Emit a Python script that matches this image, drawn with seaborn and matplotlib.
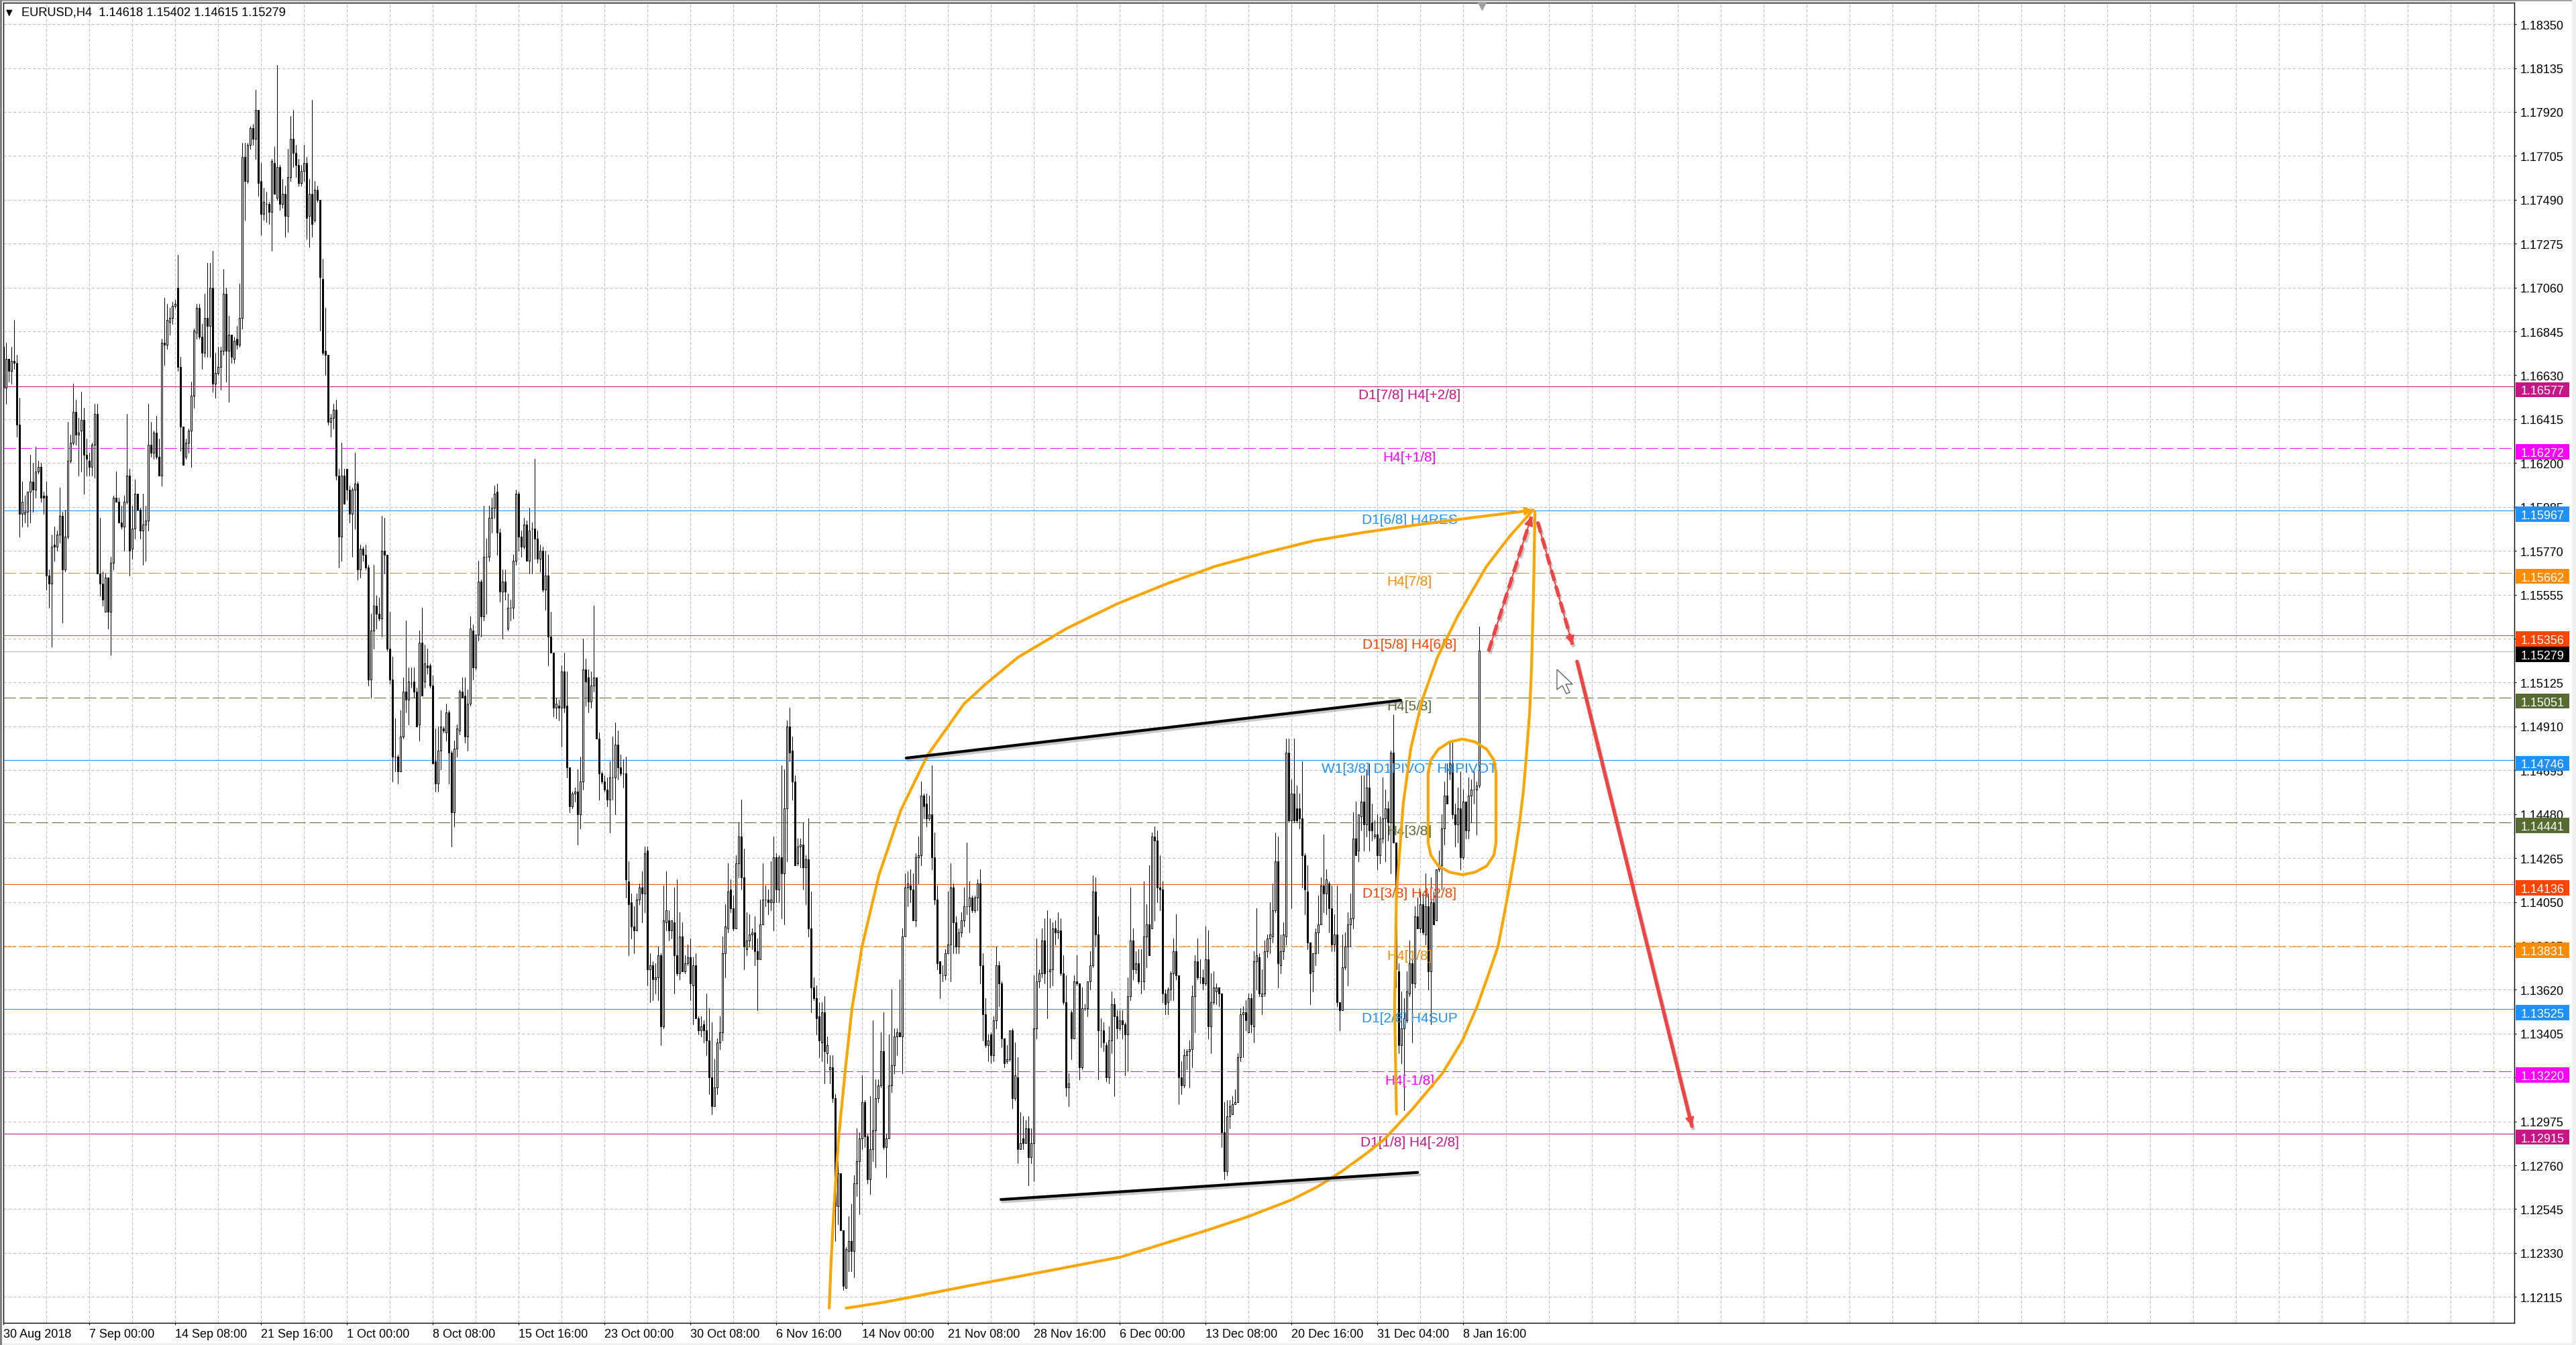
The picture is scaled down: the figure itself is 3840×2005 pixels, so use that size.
import matplotlib
import matplotlib.pyplot as plt
import matplotlib.patheffects as pe
from matplotlib.patches import Rectangle
import numpy as np
import pandas as pd
import seaborn as sns

matplotlib.use("Agg")

# EURUSD H4 candles, in pips above 1.1000
OPENS = [
    677,657,671,665,670,669,639,595,595,596, 606,611,607,616,618,604,604,565,561,580,
    579,585,594,568,584,621,630,645,634,636, 641,624,621,618,629,644,566,561,547,564,
    547,571,603,601,591,589,601,614,578,588, 605,597,587,590,592,629,625,635,623,614,
    679,678,689,691,697,706,667,638,623,630, 636,653,684,696,682,674,691,687,706,659,
    664,667,675,703,675,683,671,681,678,691, 770,758,776,784,779,793,758,742,747,747,
    743,767,750,765,747,752,741,760,779,772, 766,757,763,767,741,752,739,754,749,710,
    675,673,640,642,646,614,584,614,617,607, 595,607,610,568,578,575,569,514,538,550,
    546,544,577,575,529,514,476,476,469,486, 508,504,512,513,508,492,532,513,521,521,
    511,474,463,479,490,488,498,478,449,480, 489,508,506,486,502,538,520,536,562,545,
    574,574,593,598,606,586,557,562,539,549, 549,572,605,584,579,590,572,588,588,583,
    573,577,558,565,535,527,500,501,500,518, 501,471,452,458,459,448,464,519,515,503,
    511,515,485,468,464,460,455,466,466,482, 471,468,468,415,405,393,391,406,412,409,
    430,372,374,367,368,379,344,395,396,391, 395,379,370,388,371,375,378,364,374,348,
    342,345,342,337,319,305,314,336,341,380, 392,411,402,392,424,437,417,382,386,389,
    390,381,377,394,406,406,405,405,427,411, 427,419,451,491,479,464,424,432,433,422,
    426,392,363,358,349,336,351,331,323,324, 309,256,272,244,216,234,239,234,267,278,
    289,307,290,269,284,293,309,315,332,285, 289,315,325,339,341,339,388,412,413,411,
    396,427,428,457,453,446,448,427,406,376, 369,369,380,384,412,395,383,390,396,403,
    403,407,401,407,414,374,350,335,340,330, 347,374,365,338,327,328,342,309,319,284,
    289,287,294,280,287,343,366,370,386,371, 371,372,392,390,391,370,356,314,351,338,
    366,365,324,353,353,366,374,410,389,342, 342,335,319,337,355,349,343,347,345,340,
    359,386,372,375,366,366,388,394,392,437, 435,412,411,360,356,362,370,381,369,319,
    315,330,332,333,359,376,368,368,365,377, 344,356,361,363,360,292,273,300,301,306,
    307,329,350,351,341,358,344,376,378,359, 360,381,387,388,401,425,374,381,388,478,
    445,458,451,451,446,428,410,385,371,380, 390,394,413,409,414,402,384,389,356,352,
    373,383,394,397,436,430,447,454,443,461, 444,437,438,428,436,446,451,444,478,434,
    371,335,343,347,360,375,365,398,392,404, 389,403,371,405,396,421,423,441,457,468,
    473,448,443,451,427,454,440,457,460,460, 462,
]
CLOSES = [
    657,671,665,670,669,639,595,601,596,606, 611,607,616,618,603,603,565,561,579,579,
    585,594,568,584,621,630,645,634,635,641, 624,622,618,629,644,566,561,553,564,547,
    571,603,601,591,589,601,614,577,588,605, 597,587,590,592,629,625,635,623,614,679,
    678,690,691,697,698,667,638,619,630,636, 653,685,696,682,674,691,687,706,659,664,
    667,675,703,675,683,672,680,678,691,770, 758,776,784,779,793,757,742,748,747,743,
    768,752,765,747,752,741,760,779,772,766, 757,763,767,740,752,737,754,749,711,674,
    673,640,642,646,614,584,614,600,607,595, 607,610,568,578,575,569,514,538,550,546,
    544,577,575,529,514,476,476,469,486,508, 504,513,512,508,491,532,506,522,520,511,
    473,463,479,491,489,498,478,449,480,490, 508,505,486,502,539,520,536,562,545,574,
    574,593,598,605,586,557,562,557,549,549, 572,605,584,579,590,572,587,588,583,573,
    577,558,565,535,527,500,502,500,518,500, 471,452,458,459,448,464,519,513,503,511,
    515,485,468,464,460,455,466,466,482,471, 468,468,416,404,393,391,406,412,409,429,
    372,374,367,368,379,344,396,401,391,396, 379,370,388,371,375,378,365,374,348,342,
    344,342,337,319,305,314,336,341,380,393, 410,402,392,424,437,417,383,386,389,390,
    381,377,394,406,406,405,406,427,411,427, 419,451,491,478,464,423,432,433,422,426,
    392,363,358,348,337,351,332,335,324,309, 256,272,244,217,235,239,234,267,278,289,
    307,290,269,284,293,309,315,332,285,289, 315,325,339,341,339,388,412,414,411,396,
    427,428,457,452,446,448,427,406,375,370, 369,380,384,412,395,383,390,396,403,403,
    407,401,407,414,374,350,335,337,330,347, 374,365,338,326,328,342,309,320,284,287,
    287,294,280,287,343,366,370,386,370,371, 372,392,390,391,370,356,314,316,338,366,
    365,324,353,353,366,374,410,389,342,342, 336,319,337,355,349,343,347,345,340,359,
    386,372,375,366,366,388,394,379,437,435, 412,411,360,355,362,370,381,369,319,315,
    330,332,333,359,376,368,368,365,377,344, 356,363,363,360,292,273,300,305,306,307,
    329,350,351,347,358,345,376,379,360,360, 381,387,389,401,425,375,381,389,478,445,
    458,445,445,446,428,411,385,370,380,390, 394,413,409,416,402,384,389,356,352,373,
    383,394,397,436,428,448,454,443,461,440, 440,438,428,436,446,451,444,478,434,372,
    335,343,348,361,375,365,398,392,404,390, 403,371,405,394,421,422,441,457,453,473,
    448,443,451,427,454,440,457,460,460,462, 528,
]
HIGHS = [
    683,679,671,677,690,673,652,611,604,606, 624,620,628,621,620,606,611,568,585,589,
    587,608,596,597,640,634,659,651,642,655, 647,632,625,630,649,649,593,567,566,564,
    574,604,616,603,599,604,644,617,599,612, 605,598,605,599,649,640,636,643,632,681,
    701,698,696,699,700,722,672,638,632,637, 660,686,698,698,688,703,718,718,724,674,
    677,677,715,706,692,683,682,687,708,777, 777,777,785,786,803,793,767,755,753,748,
    769,775,815,766,759,756,774,790,793,776, 769,766,776,770,759,798,758,756,749,720,
    696,673,644,649,651,617,630,617,617,609, 608,625,611,580,579,580,570,546,570,555,
    554,594,593,575,547,525,495,477,499,515, 543,520,520,520,510,538,549,531,529,522,
    516,490,491,499,491,502,499,479,484,492, 509,515,515,509,545,541,536,572,563,599,
    583,599,603,609,610,588,568,568,556,553, 575,607,606,587,593,592,598,591,622,587,
    580,579,577,575,547,527,505,504,521,527, 518,471,459,461,470,476,534,524,519,518,
    550,515,488,469,467,466,474,486,493,489, 477,475,476,425,409,403,409,414,420,432,
    432,380,376,375,383,380,413,420,401,396, 412,416,400,395,379,384,387,378,380,349,
    349,347,360,353,346,328,338,349,388,404, 424,416,408,428,444,455,431,400,399,392,
    398,387,406,424,413,411,425,437,429,428, 472,470,494,500,486,467,436,436,444,428,
    446,410,368,364,356,356,359,339,330,330, 311,278,272,244,236,251,257,271,294,292,
    320,308,291,310,347,318,318,341,351,291, 340,362,343,343,367,392,419,420,421,419,
    429,437,464,458,458,457,472,439,413,376, 374,382,410,424,414,398,392,400,412,434,
    415,408,408,416,421,380,358,340,341,349, 383,376,366,338,335,342,343,336,329,302,
    300,298,300,294,369,387,372,392,397,401, 397,395,396,400,397,379,369,321,352,369,
    379,365,363,355,366,381,418,417,398,348, 346,336,344,361,358,352,352,352,346,368,
    412,392,381,382,382,415,404,423,439,442, 440,428,415,362,363,371,387,399,369,327,
    333,333,337,364,379,387,377,372,393,391, 370,371,365,363,360,307,308,308,310,313,
    331,353,354,357,360,360,381,402,380,372, 386,389,405,414,439,437,389,395,485,485,
    465,485,462,458,474,429,423,385,380,392, 408,417,438,421,415,413,399,413,356,389,
    390,400,409,449,454,448,467,467,470,473, 453,445,448,447,466,460,454,479,497,434,
    375,361,358,371,386,381,403,407,410,409, 419,409,417,410,421,430,448,464,473,483,
    484,453,461,469,460,454,466,465,469,464, 540,
]
LOWS = [
    641,649,660,659,666,633,584,589,591,589, 591,596,603,615,601,595,558,549,530,572,
    577,581,542,567,583,620,629,629,614,616, 605,614,614,614,613,566,555,550,547,539,
    526,568,601,591,588,577,600,565,573,583, 597,583,570,572,587,623,622,622,614,609,
    668,676,683,688,696,665,626,619,622,625, 618,647,681,681,666,672,672,672,655,652,
    663,656,673,660,650,669,669,676,677,686, 739,757,774,776,769,751,732,739,738,737,
    724,752,749,744,745,731,733,758,765,760, 756,756,758,730,726,731,738,748,685,673,
    663,639,633,637,612,569,572,600,602,591, 574,588,563,564,572,568,511,505,529,539,
    543,535,566,528,512,464,469,463,469,485, 498,492,510,505,491,484,506,510,517,510,
    473,459,459,470,488,484,463,432,442,476, 487,505,483,479,501,514,519,533,535,543,
    546,572,586,593,575,552,534,553,538,543, 544,570,577,574,578,572,566,566,573,571,
    567,557,548,521,527,496,495,494,481,498, 466,449,451,454,433,441,460,501,498,500,
    508,485,455,463,459,452,439,455,448,465, 467,461,407,379,387,380,391,404,395,400,
    364,356,357,360,357,335,343,391,386,387, 360,369,367,371,370,374,357,345,348,340,
    339,336,330,311,301,305,311,333,337,368, 390,400,391,392,417,411,372,379,383,382,
    374,352,377,394,403,399,401,391,405,405, 397,394,425,474,455,423,423,422,411,404,
    388,351,357,340,329,327,316,326,316,307, 239,247,244,215,216,224,224,221,261,252,
    284,285,267,262,278,275,307,314,284,270, 289,312,321,330,339,321,388,403,405,396,
    393,414,423,446,442,445,421,404,372,358, 366,367,380,366,380,380,380,388,393,399,
    390,400,400,401,365,337,334,327,326,327, 343,354,334,324,326,327,304,308,277,284,
    284,287,266,277,268,338,363,368,365,348, 363,364,384,387,369,355,310,305,328,338,
    364,318,323,352,349,362,373,383,318,334, 332,317,316,331,310,338,342,338,320,322,
    357,367,370,365,360,362,373,379,392,396, 405,401,356,350,350,357,357,367,306,311,
    314,323,314,324,341,367,365,362,364,338, 331,355,355,354,285,269,271,294,301,306,
    307,327,329,342,341,341,336,362,359,350, 359,378,380,385,400,363,370,377,384,444,
    402,444,444,441,412,399,382,355,361,374, 380,394,400,399,390,381,381,354,342,352,
    372,364,383,392,428,425,440,430,437,430, 435,436,421,424,434,425,435,419,434,363,
    331,326,303,346,359,336,363,392,390,389, 384,362,345,394,396,420,411,433,453,465,
    446,432,434,421,426,436,436,444,453,438, 461,
]

DATE_LABELS = [
    "30 Aug 2018", "7 Sep 00:00", "14 Sep 08:00", "21 Sep 16:00", "1 Oct 00:00", "8 Oct 08:00",
    "15 Oct 16:00", "23 Oct 00:00", "30 Oct 08:00", "6 Nov 16:00", "14 Nov 00:00", "21 Nov 08:00",
    "28 Nov 16:00", "6 Dec 00:00", "13 Dec 08:00", "20 Dec 16:00", "31 Dec 04:00", "8 Jan 16:00",
]
PRICE_LABELS = [
    "1.18350", "1.18135", "1.17920", "1.17705", "1.17490", "1.17275", "1.17060", "1.16845",
    "1.16630", "1.16415", "1.16200", "1.15985", "1.15770", "1.15555", "1.15340", "1.15125",
    "1.14910", "1.14695", "1.14480", "1.14265", "1.14050", "1.13835", "1.13620", "1.13405",
    "1.13190", "1.12975", "1.12760", "1.12545", "1.12330", "1.12115",
]

# Murrey math levels
LEVELS = [1.16577, 1.16272, 1.15967, 1.15662, 1.15356, 1.15051, 1.14746,
          1.14441, 1.14136, 1.13831, 1.13525, 1.13220, 1.12915]
LEVEL_NAMES = ["D1[7/8] H4[+2/8]", "H4[+1/8]", "D1[6/8] H4RES", "H4[7/8]", "D1[5/8] H4[6/8]",
               "H4[5/8]", "W1[3/8] D1PIVOT H4PIVOT", "H4[3/8]", "D1[3/8] H4[2/8]", "H4[1/8]",
               "D1[2/8] H4SUP", "H4[-1/8]", "D1[1/8] H4[-2/8]"]
LEVEL_COLORS = ["#C71585", "#FF00FF", "#1E90FF", "#FF8C00", "#FF4500", "#556B2F", "#1E90FF",
                "#556B2F", "#FF4500", "#FF8C00", "#1E90FF", "#FF00FF", "#C71585"]
LEVEL_DASHED = [False, True, False, True, False, True, False, True, False, True, False, True, False]
BID = 1.15279

# hand drawn objects: bar number and pips above 1.1000
ARC_UP_X = [307.7, 308.4, 309.4, 311.2, 313.7, 316.2, 319.9, 326.2, 334.4, 344.4, 357.9, 366.2,
            378.2, 396.2, 414.9, 433.7, 451.7, 469.9, 488.4, 506.7, 525.2, 548.7, 570]
ARC_UP_Y = [206, 229, 254, 289.5, 323, 353, 383, 418, 450, 477, 502, 512,
            525, 539, 551, 561, 569.5, 576, 582, 586, 589.5, 593.5, 597]
ARC_LOW_X = [314, 328.7, 344.4, 359.9, 376.2, 396.2, 416.2, 432.4, 447.9, 463.7, 479.9, 489.7,
             498.7, 507.4, 514.4, 524.9, 536.2, 543.7, 549.2, 553.7, 556.9, 559.2, 561.2,
             563.2, 564.9, 566.4, 567.4, 568.7, 569.4, 570.2, 570.7]
ARC_LOW_Y = [206, 209, 213, 217, 221, 226, 231, 237.6, 243.9, 250.8, 259, 265.5,
             273, 281.3, 288.5, 303.3, 321, 337.2, 354, 370.7, 383, 398.6, 413,
             428.2, 443, 459.4, 475, 497.2, 519, 558, 596]
ARC_INNER_X = [519.1, 518.7, 518.4, 519.1, 521.6, 524.4, 528.7, 534.4, 541.9, 552.7, 561.2, 570]
ARC_INNER_Y = [301, 331, 354, 409, 453, 480, 504, 525, 545, 569.5, 584, 597]
LOOP_X = [543.7, 548.4, 552.7, 555.4, 556.2, 556.2, 555.4, 552.7, 548.4, 543.7,
          538.9, 534.7, 531.9, 530.9, 530.9, 531.9, 534.7, 538.9, 543.7]
LOOP_Y = [484.8, 483.4, 479.8, 474.5, 468.3, 434.1, 427.9, 422.6, 419.6, 418.3,
          419.6, 422.6, 427.9, 434.1, 468.3, 474.5, 479.8, 483.4, 484.8]
TREND_TOP_X = [336.4, 520.7]
TREND_TOP_Y = [475.5, 503.8]
TREND_BOTTOM_X = [371.7, 527]
TREND_BOTTOM_Y = [259.2, 272.5]
RED_UP_X = [553.4, 569.4]
RED_UP_Y = [527.8, 593.8]
RED_DOWN_X = [571.7, 584.7]
RED_DOWN_Y = [591.2, 531]
RED_TARGET_X = [586.4, 629.2]
RED_TARGET_Y = [522.8, 295.1]
CURSOR_X = [578.9, 578.9, 580.9, 582.4, 583.7, 582.2, 584.7]
CURSOR_Y = [518.9, 509, 511, 507, 507.7, 511.7, 511.7]


def to_price(pips):
    return 1.1 + np.asarray(pips, dtype=float) / 10000


def draw_path(ax, xs, ys, color, width, zorder=6, shadow=False, **kwargs):
    sns.lineplot(x=xs, y=to_price(ys), sort=False, estimator=None, color=color,
                 linewidth=width, ax=ax, zorder=zorder, legend=False, **kwargs)
    line = ax.lines[-1]
    if shadow:
        line.set_path_effects([
            pe.SimpleLineShadow(offset=(1.5, -2.5), shadow_color="#888888", alpha=0.45),
            pe.Normal(),
        ])
    return line


def draw_head(ax, x0, y0, x1, y1, color):
    ax.annotate("", xy=(x1, to_price(y1)), xytext=(x0, to_price(y0)), zorder=7,
                arrowprops=dict(arrowstyle="-|>", color=color, lw=1.5, mutation_scale=20,
                                shrinkA=0, shrinkB=0))


sns.set_theme(style="white")
plt.rcParams["font.family"] = ["Liberation Sans", "DejaVu Sans"]

fig = plt.figure(figsize=(38.4, 20.06), dpi=100, facecolor="white")
ax = fig.add_axes([4.5 / 3840, 33.5 / 2006, 3743.5 / 3840, 1967.5 / 2006])

candles = pd.DataFrame({"open": to_price(OPENS), "high": to_price(HIGHS),
                        "low": to_price(LOWS), "close": to_price(CLOSES)})
candles["bar"] = np.arange(len(candles))

# wicks
wicks = candles.melt(id_vars="bar", value_vars=["low", "high"], value_name="price")
sns.lineplot(data=wicks, x="bar", y="price", units="bar", estimator=None, color="black",
             linewidth=0.75, legend=False, ax=ax, zorder=3)

# bodies
rising = candles["close"] >= candles["open"]
ax.bar(candles["bar"], (candles["close"] - candles["open"]).abs(),
       bottom=candles[["open", "close"]].min(axis=1), width=0.5,
       color=np.where(rising, "white", "black"), edgecolor="black", linewidth=0.75, zorder=4)

# levels, bid line and their labels
for level, name, colour, dashed in zip(LEVELS, LEVEL_NAMES, LEVEL_COLORS, LEVEL_DASHED):
    ax.axhline(level, color=colour, linewidth=0.72, zorder=2, snap=True,
               linestyle=(0, (18, 6)) if dashed else "-")
    ax.text(524, level - 0.00036, name, color=colour, fontsize=15, ha="center",
            va="center_baseline", zorder=5)
ax.axhline(BID, color="#C0C0C0", linewidth=0.9, zorder=2, snap=True)


def price_tag(level, colour, zorder):
    ax.add_patch(Rectangle((936.2, level - 0.00054), 20, 0.00074, facecolor=colour, edgecolor="none",
                           clip_on=False, zorder=zorder))
    ax.text(938, level - 0.00017, f"{level:.5f}", color="white", fontsize=13, va="center_baseline",
            clip_on=False, zorder=zorder + 0.1)


price_tag(BID, "black", 8)
for level, colour in zip(LEVELS, LEVEL_COLORS):
    price_tag(level, colour, 9)

# hand drawn objects
arc_colour = "#F9A602"
draw_path(ax, ARC_UP_X, ARC_UP_Y, arc_colour, 3, solid_capstyle="round", solid_joinstyle="round")
draw_path(ax, ARC_LOW_X, ARC_LOW_Y, arc_colour, 3, solid_capstyle="round", solid_joinstyle="round")
draw_path(ax, ARC_INNER_X, ARC_INNER_Y, arc_colour, 3, solid_capstyle="round", solid_joinstyle="round")
draw_path(ax, LOOP_X, LOOP_Y, arc_colour, 3, solid_joinstyle="round")
draw_head(ax, ARC_UP_X[-2], ARC_UP_Y[-2], ARC_UP_X[-1], ARC_UP_Y[-1], arc_colour)

draw_path(ax, TREND_TOP_X, TREND_TOP_Y, "black", 3, shadow=True)
draw_path(ax, TREND_BOTTOM_X, TREND_BOTTOM_Y, "black", 3, shadow=True)

red = "#F04444"
draw_path(ax, RED_UP_X, RED_UP_Y, red, 3.8, shadow=True, linestyle=(0, (3.2, 1.5)))
draw_path(ax, RED_DOWN_X, RED_DOWN_Y, red, 3.8, shadow=True, linestyle=(0, (3.2, 1.5)))
draw_path(ax, RED_TARGET_X, RED_TARGET_Y, red, 3.8, shadow=True)
draw_head(ax, RED_UP_X[0], RED_UP_Y[0], RED_UP_X[1], RED_UP_Y[1], red)
draw_head(ax, RED_DOWN_X[0], RED_DOWN_Y[0], RED_DOWN_X[1], RED_DOWN_Y[1], red)
draw_head(ax, RED_TARGET_X[0], RED_TARGET_Y[0], RED_TARGET_X[1], RED_TARGET_Y[1], red)

ax.fill(CURSOR_X, to_price(CURSOR_Y), facecolor="white", edgecolor="#555555", linewidth=0.9, zorder=8)

# shift marker at the top of the last bar
ax.scatter([550.8], [1.18440], marker="v", s=70, color="#A0A0A0", zorder=8, clip_on=False)

# axes
price_ticks = [float(t) for t in PRICE_LABELS]
ax.set_xlim(-0.21, 935.67)
ax.set_ylim(1.119895, 1.184556)
ax.set_xticks(np.arange(len(DATE_LABELS)) * 32)
ax.set_xticklabels(DATE_LABELS, ha="left", fontsize=13, color="black")
ax.set_xticks(np.arange(0, 936, 16), minor=True)
ax.yaxis.tick_right()
ax.set_yticks(price_ticks)
ax.set_yticklabels(PRICE_LABELS, fontsize=13, color="black", va="center_baseline")
ax.set_xlabel("")
ax.set_ylabel("")
ax.tick_params(axis="x", which="major", length=2.2, width=0.8, pad=4, color="black", bottom=True)
ax.tick_params(axis="x", which="minor", length=0)
ax.tick_params(axis="y", length=2.2, width=0.8, pad=4, color="black", right=True)
ax.set_axisbelow(True)
ax.grid(True, axis="x", which="both", color="#C0C0C0", linewidth=0.75, linestyle=(0, (4, 3)))
ax.grid(True, axis="y", which="major", color="#C0C0C0", linewidth=0.75, linestyle=(0, (4, 3)))
for spine in ax.spines.values():
    spine.set_visible(True)
    spine.set_color("black")
    spine.set_linewidth(1.0)

# window title inside the chart
fig.text(14 / 3840, 1 - 19 / 2006, "\u25BC", fontsize=9, color="black", ha="center", va="center",
         family="DejaVu Sans")
fig.text(32 / 3840, 1 - 19 / 2006, "EURUSD,H4  1.14618 1.15402 1.14615 1.15279", fontsize=13.15,
         color="black", va="center")

# window frame
frame = [(0, 2003, 3840, 3, "#F0F0F0"), (0, 0, 3840, 3, "#A0A0A0"), (0, 0, 3, 2006, "#808080"),
         (3834, 0, 6, 2006, "#F0F0F0")]
for x, y, w, h, colour in frame:
    fig.add_artist(Rectangle((x / 3840, 1 - (y + h) / 2006), w / 3840, h / 2006, facecolor=colour,
                             edgecolor="none", transform=fig.transFigure))

fig.savefig("out.png", dpi=100)
plt.close(fig)
